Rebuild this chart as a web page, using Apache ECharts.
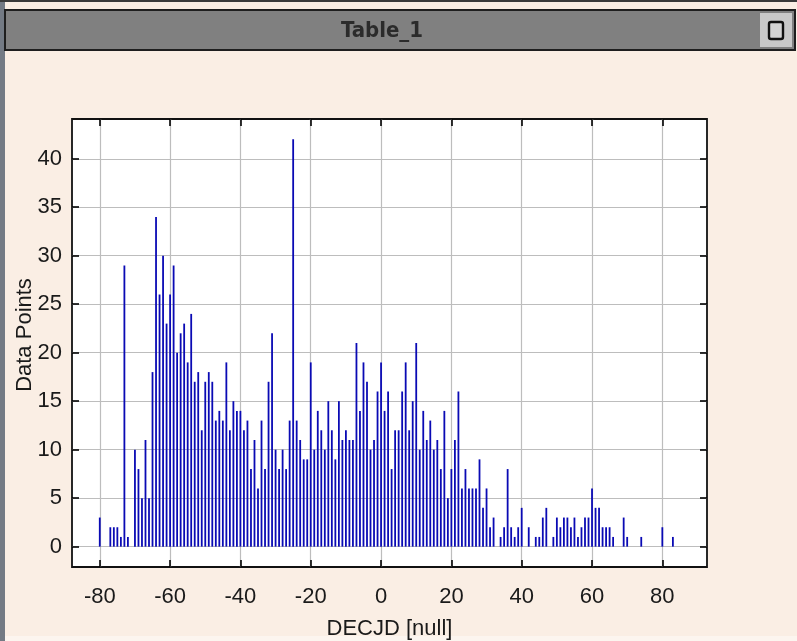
<!DOCTYPE html>
<html>
<head>
<meta charset="utf-8">
<title>Table_1</title>
<script src="https://cdn.jsdelivr.net/npm/echarts@6/dist/echarts.min.js"></script>
<style>
  html, body { margin: 0; padding: 0; background: #faeee4; }
  #chart { width: 797px; height: 641px; }
</style>
</head>
<body>
<div id="chart"></div>
<script>
// Histogram of DECJD (1-degree bins); only non-empty bins are listed.
const decBins = [
  -80, -77, -76, -75, -74, -73, -72, -70, -69, -68, -67, -66, -65, -64, -63, -62, -61, -60,
  -59, -58, -57, -56, -55, -54, -53, -52, -51, -50, -49, -48, -47, -46, -45, -44, -43, -42,
  -41, -40, -39, -38, -37, -36, -35, -34, -33, -32, -31, -30, -29, -28, -27, -26, -25, -24,
  -23, -22, -21, -20, -19, -18, -17, -16, -15, -14, -13, -12, -11, -10, -9, -8, -7, -6,
  -5, -4, -3, -2, -1, 0, 1, 2, 3, 4, 5, 6, 7, 8, 9, 10, 11, 12,
  13, 14, 15, 16, 17, 18, 19, 20, 21, 22, 23, 24, 25, 26, 27, 28, 29, 30,
  31, 32, 34, 35, 36, 37, 38, 39, 40, 42, 44, 45, 46, 47, 49, 50, 51, 52,
  53, 54, 55, 56, 57, 58, 59, 60, 61, 62, 63, 64, 65, 66, 69, 70, 74, 80, 83
];
const counts = [
  3, 2, 2, 2, 1, 29, 1, 10, 8, 5, 11, 5, 18, 34, 26, 30, 23, 26,
  29, 20, 22, 23, 19, 24, 17, 18, 12, 17, 18, 17, 13, 14, 13, 19, 12, 15,
  14, 14, 12, 13, 8, 11, 6, 13, 8, 17, 22, 10, 8, 10, 8, 13, 42, 13,
  11, 9, 9, 19, 10, 14, 12, 10, 15, 12, 9, 15, 11, 12, 11, 11, 21, 14,
  19, 17, 10, 11, 16, 19, 14, 16, 8, 12, 12, 16, 19, 12, 15, 21, 10, 14,
  11, 13, 10, 11, 8, 14, 5, 8, 11, 16, 6, 8, 6, 6, 6, 9, 4, 6,
  2, 3, 1, 2, 8, 2, 1, 2, 4, 2, 1, 1, 3, 4, 1, 3, 2, 3,
  3, 2, 3, 1, 2, 3, 3, 6, 4, 4, 2, 2, 2, 1, 3, 1, 1, 2, 1
];
const xTicks = [-80, -60, -40, -20, 0, 20, 40, 60, 80];
const yTicks = [0, 5, 10, 15, 20, 25, 30, 35, 40];

const FONT = '"Liberation Sans", Arial, sans-serif';
const xRange = { min: -87.9, max: 92.7 };
const yRange = { min: -2.1, max: 44.1 };

const chart = echarts.init(document.getElementById('chart'), null, { renderer: 'canvas' });

const tickStyle = { color: '#000', width: 1.6 };

// mirrored axis used only to put inward ticks on the top / right edges of the frame
function frameAxis(range, ticks, position) {
  return {
    type: 'value',
    position: position,
    min: range.min,
    max: range.max,
    axisLine: { show: false, onZero: false },
    axisTick: { show: true, inside: true, length: 7, customValues: ticks, lineStyle: tickStyle },
    axisLabel: { show: false, customValues: ticks },
    splitLine: { show: false }
  };
}

const option = {
  backgroundColor: '#faeee4',
  animation: false,
  graphic: [
    // window frame strips
    { type: 'rect', silent: true, shape: { x: 0, y: 0, width: 5, height: 641 }, style: { fill: '#737a84' } },
    { type: 'rect', silent: true, shape: { x: 0, y: 0, width: 797, height: 2 }, style: { fill: '#3a3a3a' } },
    { type: 'rect', silent: true, shape: { x: 5, y: 636, width: 792, height: 5 }, style: { fill: '#fcf5ef' } },
    // title bar
    { type: 'rect', silent: true, shape: { x: 5, y: 10, width: 790, height: 40 },
      style: { fill: '#808080', stroke: '#1e1e1e', lineWidth: 2 } },
    { type: 'text', silent: true, x: 382, y: 31,
      style: { text: 'Table_1', fill: '#2b2b2b', font: 'bold 22px "DejaVu Sans Condensed", "Liberation Sans", sans-serif',
               align: 'center', verticalAlign: 'middle' } },
    // maximise button
    { type: 'rect', silent: true, shape: { x: 760, y: 13, width: 32, height: 34 }, style: { fill: '#c9c9c9' } },
    { type: 'rect', silent: true, shape: { x: 769, y: 22, width: 14, height: 17, r: 2 },
      style: { fill: '#d4d4d4', stroke: '#111', lineWidth: 2.4 } }
  ],
  grid: {
    left: 72, top: 119, right: 90, bottom: 74,
    outerBoundsMode: 'none',
    containLabel: false,
    show: true, backgroundColor: '#ffffff', borderColor: '#111', borderWidth: 1.8
  },
  xAxis: [
    {
      type: 'value',
      min: xRange.min,
      max: xRange.max,
      name: 'DECJD [null]',
      nameLocation: 'middle',
      nameGap: 51,
      nameMoveOverlap: false,
      nameTextStyle: { fontFamily: FONT, fontSize: 22, color: '#1a1a1a' },
      axisLine: { show: false, onZero: false },
      axisTick: { show: true, inside: true, length: 7, customValues: xTicks, lineStyle: tickStyle },
      axisLabel: {
        customValues: xTicks, margin: 19,
        fontFamily: FONT, fontSize: 22, color: '#1a1a1a'
      },
      splitLine: { show: true, lineStyle: { color: '#bdbdbd', width: 1.2 } }
    },
    frameAxis(xRange, xTicks, 'top')
  ],
  yAxis: [
    {
      type: 'value',
      min: yRange.min,
      max: yRange.max,
      name: 'Data Points',
      nameLocation: 'middle',
      nameGap: 36,
      nameMoveOverlap: false,
      nameTextStyle: { fontFamily: FONT, fontSize: 22, color: '#1a1a1a', padding: [0, 0, 0, 16] },
      axisLine: { show: false, onZero: false },
      axisTick: { show: true, inside: true, length: 7, customValues: yTicks, lineStyle: tickStyle },
      axisLabel: {
        customValues: yTicks, margin: 10,
        fontFamily: FONT, fontSize: 22, color: '#1a1a1a'
      },
      splitLine: { show: true, lineStyle: { color: '#bdbdbd', width: 1.2 } }
    },
    frameAxis(yRange, yTicks, 'right')
  ],
  series: [
    {
      type: 'bar',
      xAxisIndex: 0,
      yAxisIndex: 0,
      barWidth: 1.8,
      itemStyle: { color: '#0a0ab4' },
      data: decBins.map((d, i) => [d, counts[i]])
    }
  ]
};

chart.setOption(option);
</script>
</body>
</html>
